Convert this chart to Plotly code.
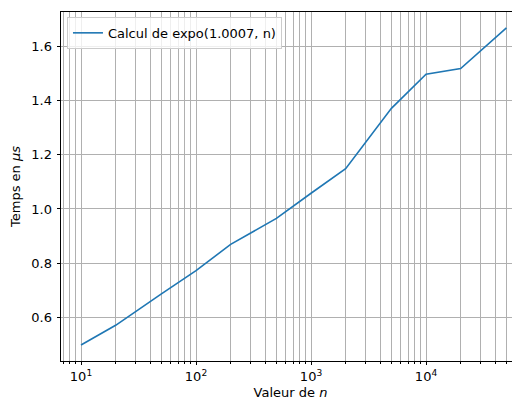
import plotly.graph_objects as go

n_values = [10, 20, 50, 100, 200, 500, 1000, 2000, 5000, 10000, 20000, 50000]
temps_us = [0.497, 0.570, 0.686, 0.772, 0.869, 0.965, 1.058, 1.149, 1.372, 1.498, 1.519, 1.669]
series_name = "Calcul de expo(1.0007, n)"

x_major = [10, 100, 1000, 10000]
x_major_text = ["10<sup>1</sup>", "10<sup>2</sup>", "10<sup>3</sup>", "10<sup>4</sup>"]
decades = [1, 10, 100, 1000, 10000]
minor_mult = [2, 3, 4, 5, 6, 7, 8, 9]
x_minor = [d * m for d in decades for m in minor_mult]
y_ticks = [0.6, 0.8, 1.0, 1.2, 1.4, 1.6]
y_text = ["0.6", "0.8", "1.0", "1.2", "1.4", "1.6"]

FONT = "DejaVu Sans"
FS = 13
GRID = "#b0b0b0"

fig = go.Figure()
fig.add_trace(go.Scatter(
    x=n_values, y=temps_us, mode="lines", name=series_name,
    line=dict(color="#1f77b4", width=1.6),
    showlegend=True,
))

# page body has an 8px margin: figure is sized so that it fills the 520x400 window
fig.update_layout(
    template="none",
    width=512, height=392,
    margin=dict(l=53, r=0, t=4, b=39, autoexpand=False),
    paper_bgcolor="white", plot_bgcolor="white",
    font=dict(family=FONT, size=FS, color="#000000"),
    showlegend=True,
    legend=dict(
        x=0.013, y=0.986, xanchor="left", yanchor="top",
        bgcolor="rgba(255,255,255,0.8)", bordercolor="#cccccc", borderwidth=1,
        font=dict(family=FONT, size=FS, color="#000000"),
    ),
    xaxis=dict(
        type="log", range=[0.826, 4.817], automargin=False,
        tickmode="array", tickvals=x_major, ticktext=x_major_text,
        showgrid=True, gridcolor=GRID, gridwidth=0.8,
        ticks="outside", ticklen=3.5, tickwidth=0.8, tickcolor="#000000",
        ticklabelstandoff=0,
        minor=dict(tickvals=x_minor, showgrid=True, gridcolor=GRID, gridwidth=0.8,
                   ticks="outside", ticklen=2, tickwidth=0.6, tickcolor="#000000"),
        showline=True, linecolor="#000000", linewidth=0.8, mirror=True,
        zeroline=False,
        title=dict(text="Valeur de <i>n</i>", standoff=7, font=dict(family=FONT, size=FS)),
    ),
    yaxis=dict(
        range=[0.438, 1.728], automargin=False,
        tickmode="array", tickvals=y_ticks, ticktext=y_text,
        showgrid=True, gridcolor=GRID, gridwidth=0.8,
        ticks="outside", ticklen=3.5, tickwidth=0.8, tickcolor="#000000",
        ticklabelstandoff=2,
        showline=True, linecolor="#000000", linewidth=0.8, mirror=False,
        zeroline=False,
        title=dict(text="Temps en <i>μs</i>", standoff=10, font=dict(family=FONT, size=FS)),
    ),
)

fig.write_html("out.html")
